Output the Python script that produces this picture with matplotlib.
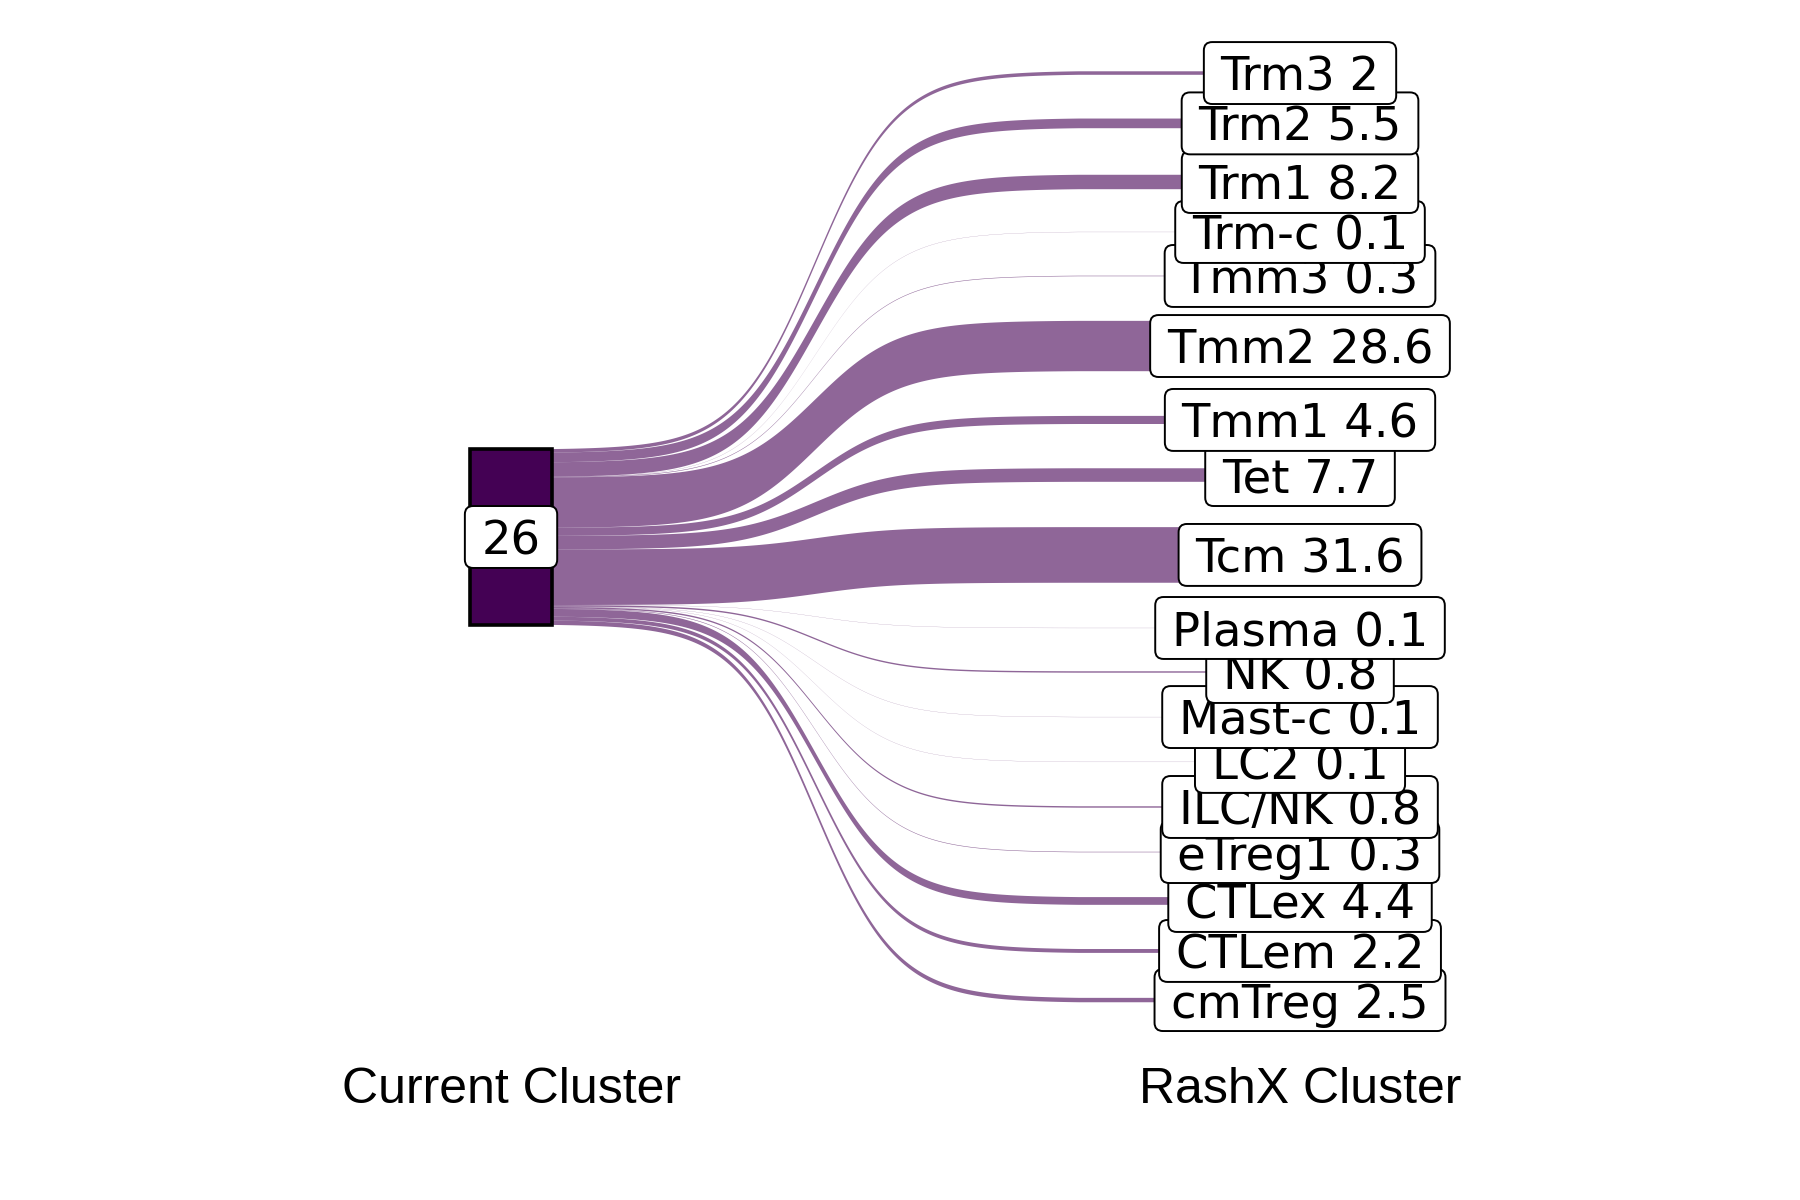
import numpy as np
import matplotlib.pyplot as plt
import matplotlib.transforms as mtransforms
from matplotlib.patches import Polygon, Rectangle, FancyBboxPatch

# RashX clusters, top to bottom, and the share (%) of current cluster 26 in each
rashx = ['Trm3', 'Trm2', 'Trm1', 'Trm-c', 'Tmm3', 'Tmm2', 'Tmm1', 'Tet', 'Tcm',
         'Plasma', 'NK', 'Mast-c', 'LC2', 'ILC/NK', 'eTreg1', 'CTLex', 'CTLem', 'cmTreg']
pct = [2, 5.5, 8.2, 0.1, 0.3, 28.6, 4.6, 7.7, 31.6,
       0.1, 0.8, 0.1, 0.1, 0.8, 0.3, 4.4, 2.2, 2.5]
# where each flow lands on the RashX axis (same units as pct, 0 = middle of the 26 box)
rashx_y = [263.6, 235.0, 201.7, 173.3, 148.3, 108.5, 66.5, 35.2, -10.2,
           -51.7, -76.7, -102.3, -127.8, -153.4, -179.0, -206.8, -235.2, -263.1]
current = '26'
axis_names = ['Current Cluster', 'RashX Cluster']

fill = '#440154'
w = 0.104          # stratum width
curve_end = 1.72   # flows level off here

fig = plt.figure(figsize=(18, 12), dpi=100)
ax = fig.add_axes([0, 0, 1, 1])
ax.set_xlim(0.3523, 2.6337)
ax.set_ylim(-376.7, 305.1)
ax.axis('off')

# sigmoid used for the flow curves
t = np.linspace(0, 1, 200)
s = 1 / (1 + np.exp(-13 * (t - 0.5)))
s = (s - s[0]) / (s[-1] - s[0])

x0, x2 = 1 + w / 2, 2 - w / 2
xs = np.r_[x0 + (curve_end - x0) * t, x2]

total = sum(pct)
top = total / 2
for name, v, ry in zip(rashx, pct, rashx_y):
    lt, lb = top, top - v
    rt, rb = ry + v / 2, ry - v / 2
    upper = np.r_[lt + (rt - lt) * s, rt]
    lower = np.r_[lb + (rb - lb) * s, rb]
    poly = np.column_stack([np.r_[xs, xs[::-1]], np.r_[upper, lower[::-1]]])
    ax.add_patch(Polygon(poly, closed=True, fc=fill, alpha=0.6, lw=0, zorder=2))
    top -= v

ax.add_patch(Rectangle((1 - w / 2, -total / 2), w, total, fc=fill, ec='black',
                       lw=2.6, zorder=3))

renderer = fig.canvas.get_renderer()


def add_label(x, y, txt, z):
    tx = ax.text(x, y, txt, ha='center', va='center_baseline', fontsize=33.5,
                 family='DejaVu Sans', zorder=z + 1)
    tw = tx.get_window_extent(renderer).width * 72 / fig.dpi
    tr = mtransforms.Affine2D().scale(fig.dpi / 72) + \
        mtransforms.ScaledTranslation(x, y, ax.transData)
    h = 44.6
    ax.add_patch(FancyBboxPatch((-tw / 2 - 12, -h / 2), tw + 24, h,
                                boxstyle='round,pad=0,rounding_size=6',
                                transform=tr, fc='white', ec='black', lw=1.4,
                                zorder=z))


add_label(1, 0, current, 10)
# lower labels first so the upper ones sit on top
for k, (name, v, ry) in enumerate(reversed(list(zip(rashx, pct, rashx_y)))):
    add_label(2, ry, f'{name} {v:g}', 20 + 2 * k)

for i, nm in enumerate(axis_names):
    ax.text(1 + i, -314, nm, ha='center', va='center', fontsize=36,
            family='Liberation Sans')

fig.savefig('out.png', dpi=100)
